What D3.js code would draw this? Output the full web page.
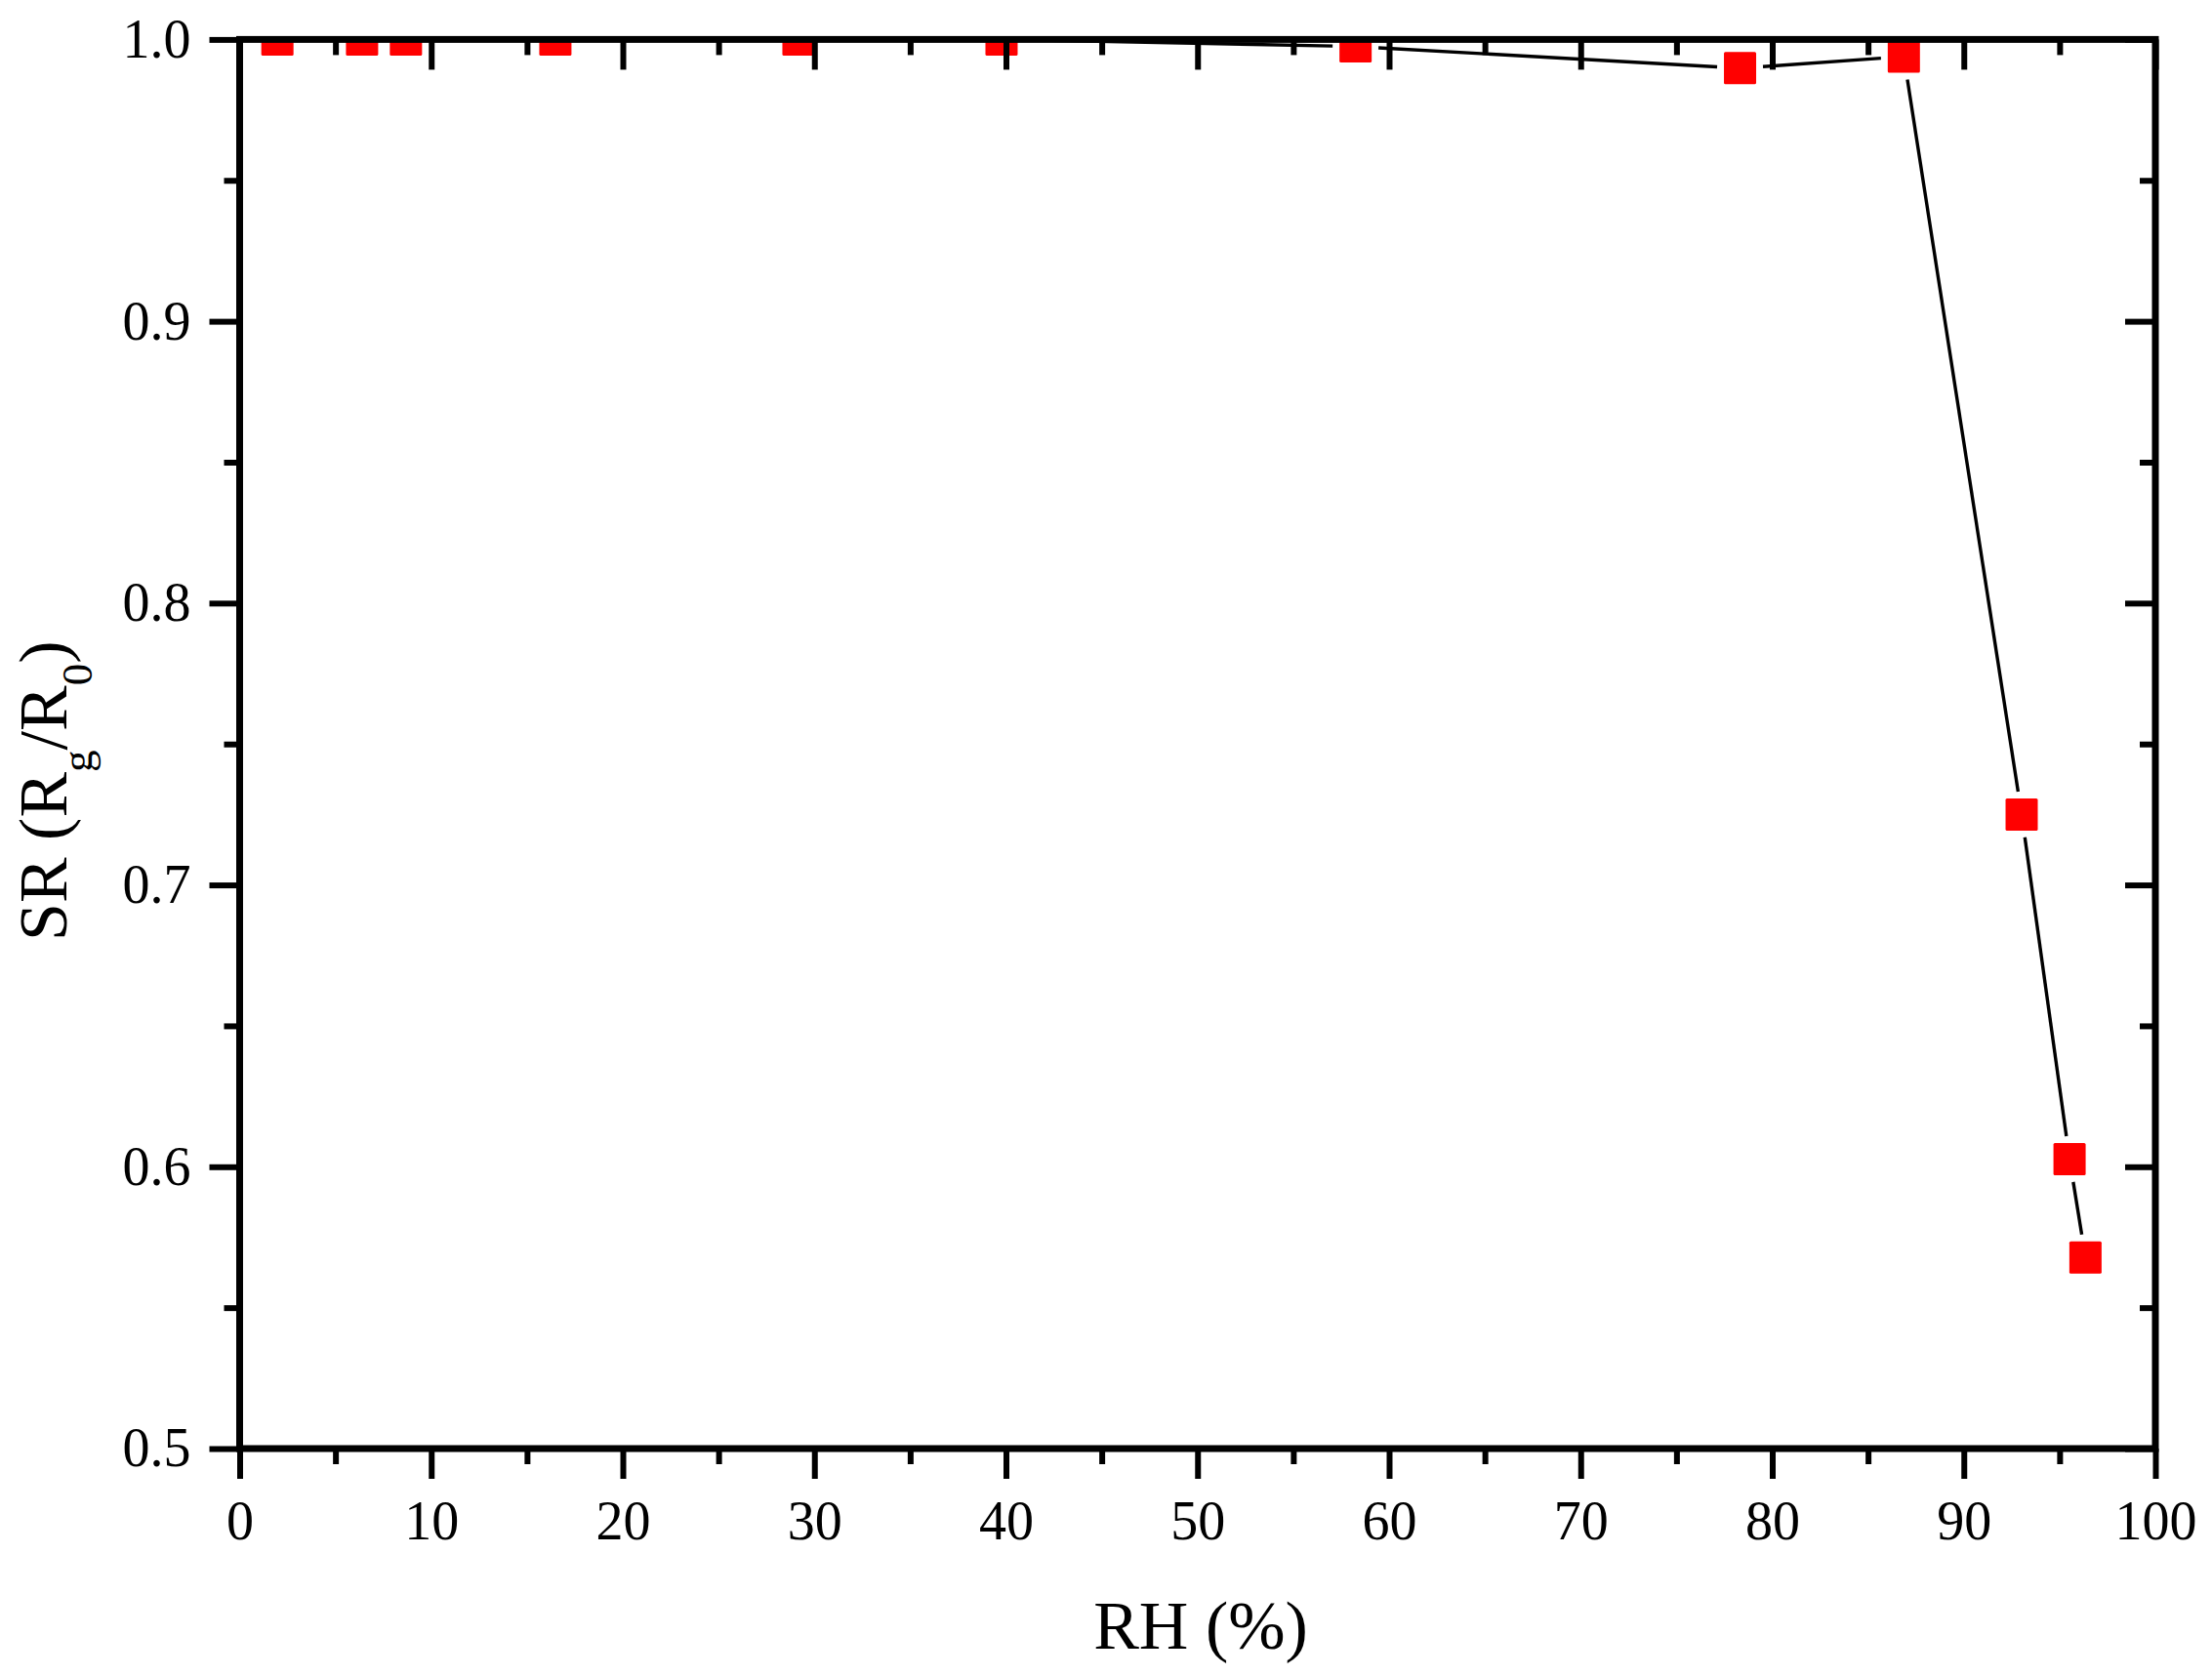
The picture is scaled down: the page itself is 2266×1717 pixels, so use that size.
<!DOCTYPE html>
<html><head><meta charset="utf-8">
<script src="https://cdn.jsdelivr.net/npm/d3@7"></script>
<style>
body{margin:0;background:#fff}
svg{display:block}
</style>
</head><body>
<svg id="chart" width="2266" height="1717"></svg>
<script>
// ---- data ----
const rhValues = [1.97, 6.39, 8.68, 16.48, 29.17, 39.77, 58.25, 78.32, 86.87, 93.02, 95.52, 96.35];
const srValues = [1.0, 1.0, 1.0, 1.0, 1.0, 1.0, 0.9975, 0.9898, 0.9939, 0.725, 0.6027, 0.5678];
const xMajorTicks = [0, 10, 20, 30, 40, 50, 60, 70, 80, 90, 100];
const xMinorTicks = [5, 15, 25, 35, 45, 55, 65, 75, 85, 95];
const yMajorTicks = [0.5, 0.6, 0.7, 0.8, 0.9, 1.0];
const yMinorTicks = [0.55, 0.65, 0.75, 0.85, 0.95];
const xTitle = "RH (%)";
const yTitleParts = [
  {t: "SR (R", sub: false},
  {t: "g", sub: true},
  {t: "/R", sub: false},
  {t: "0", sub: true},
  {t: ")", sub: false}
];

// ---- layout ----
const FONT = '"Liberation Serif","Times New Roman",serif';
const L = 245.5, R = 2208, T = 40.4, B = 1484;
const svg = d3.select('#chart');
const x = d3.scaleLinear().domain([0, 100]).range([L, R]);
const y = d3.scaleLinear().domain([0.5, 1.0]).range([B, T]);

svg.append('defs').append('clipPath').attr('id', 'plotclip')
  .append('rect').attr('x', L).attr('y', T).attr('width', R - L).attr('height', B - T);

// connecting line segments with gaps around markers
const half = 16.5, gap = 7;
const pts = rhValues.map((v, i) => [x(v), y(srValues[i])]);
const segs = [];
for (let i = 0; i < pts.length - 1; i++) {
  const [x1, y1] = pts[i], [x2, y2] = pts[i + 1];
  const dx = x2 - x1, dy = y2 - y1, d = Math.hypot(dx, dy);
  const ux = dx / d, uy = dy / d;
  const t = half / Math.max(Math.abs(ux), Math.abs(uy)) + gap;
  if (d > 2 * t) segs.push([x1 + ux * t, y1 + uy * t, x2 - ux * t, y2 - uy * t]);
}
svg.append('g').selectAll('line').data(segs).join('line')
  .attr('x1', d => d[0]).attr('y1', d => d[1]).attr('x2', d => d[2]).attr('y2', d => d[3])
  .attr('stroke', '#000').attr('stroke-width', 3.4);

// markers
svg.append('g').attr('clip-path', 'url(#plotclip)')
  .selectAll('rect').data(rhValues).join('rect')
  .attr('x', (d) => x(d) - half)
  .attr('y', (d, i) => y(srValues[i]) - half)
  .attr('width', half * 2).attr('height', half * 2)
  .attr('rx', 1.5)
  .attr('fill', '#ff0000');

// axes
function styleAxis(g) {
  g.select('.domain').remove();
  g.selectAll('.tick line').attr('stroke', '#000').attr('stroke-width', 6);
  g.selectAll('.tick text').attr('font-family', FONT).attr('font-size', 56).attr('fill', '#000');
}
svg.append('g').attr('transform', `translate(0,${B})`)
  .call(d3.axisBottom(x).tickValues(xMajorTicks).tickSize(31).tickPadding(22).tickFormat(d3.format('d')))
  .call(styleAxis);
svg.append('g').attr('transform', `translate(0,${B})`)
  .call(d3.axisBottom(x).tickValues(xMinorTicks).tickSize(16).tickFormat(''))
  .call(styleAxis);
svg.append('g').attr('transform', `translate(0,${T})`)
  .call(d3.axisTop(x).tickValues(xMajorTicks).tickSize(-31).tickFormat(''))
  .call(styleAxis);
svg.append('g').attr('transform', `translate(0,${T})`)
  .call(d3.axisTop(x).tickValues(xMinorTicks).tickSize(-16).tickFormat(''))
  .call(styleAxis);
svg.append('g').attr('transform', `translate(${L},0)`)
  .call(d3.axisLeft(y).tickValues(yMajorTicks).tickSize(31).tickPadding(19).tickFormat(d3.format('.1f')))
  .call(styleAxis);
svg.append('g').attr('transform', `translate(${L},0)`)
  .call(d3.axisLeft(y).tickValues(yMinorTicks).tickSize(16).tickFormat(''))
  .call(styleAxis);
svg.append('g').attr('transform', `translate(${R},0)`)
  .call(d3.axisRight(y).tickValues(yMajorTicks).tickSize(-31).tickFormat(''))
  .call(styleAxis);
svg.append('g').attr('transform', `translate(${R},0)`)
  .call(d3.axisRight(y).tickValues(yMinorTicks).tickSize(-16).tickFormat(''))
  .call(styleAxis);

// frame
svg.append('rect').attr('x', L).attr('y', T).attr('width', R - L).attr('height', B - T)
  .attr('fill', 'none').attr('stroke', '#000').attr('stroke-width', 7);

// titles
svg.append('text').attr('x', 1230).attr('y', 1689).attr('text-anchor', 'middle')
  .attr('font-family', FONT).attr('font-size', 70).attr('fill', '#000').text(xTitle);

const yt = svg.append('text').attr('transform', 'translate(68,964) rotate(-90)')
  .attr('font-family', FONT).attr('font-size', 70).attr('fill', '#000');
let shifted = false;
yTitleParts.forEach(p => {
  const ts = yt.append('tspan').text(p.t);
  if (p.sub) { ts.attr('font-size', 45).attr('dy', shifted ? 0 : 26); shifted = true; }
  else { if (shifted) ts.attr('dy', -26); shifted = false; }
});
</script>
</body></html>
